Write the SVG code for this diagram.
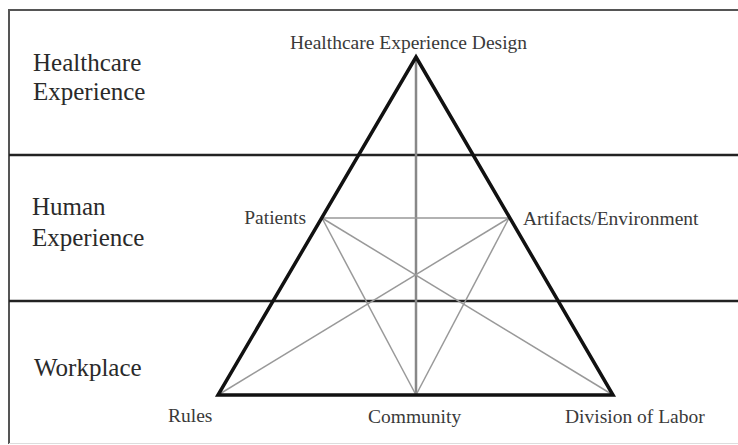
<svg xmlns="http://www.w3.org/2000/svg" width="738" height="445" viewBox="0 0 738 445">
  <style>
    .frame { stroke: #555; stroke-width: 2; fill: none; }
    .divider { stroke: #222; stroke-width: 2.5; fill: none; }
    .edge { stroke: #111; stroke-width: 3.5; fill: none; stroke-linejoin: miter; }
    .link { stroke: #999; stroke-width: 1.5; fill: none; }
    .axis { stroke: #888; stroke-width: 2.5; fill: none; }
    .band { font-family: "Liberation Serif", "Times New Roman", serif; font-size: 25px; fill: #2a2a2a; }
    .label { font-family: "Liberation Serif", "Times New Roman", serif; font-size: 19.5px; fill: #3a3a3a; }
  </style>

  <rect width="738" height="445" fill="#fff"/>

  <!-- frame and band dividers -->
  <g id="frame">
    <path class="frame" d="M738,10 H9 V444"/>
    <line x1="9" y1="443.5" x2="738" y2="443.5" stroke="#ddd" stroke-width="1"/>
    <line class="divider" x1="9" y1="155" x2="738" y2="155"/>
    <line class="divider" x1="9" y1="301" x2="738" y2="301"/>
  </g>

  <!-- band titles -->
  <g id="band-healthcare">
    <text class="band" x="33" y="71">Healthcare</text>
    <text class="band" x="33" y="100">Experience</text>
  </g>
  <g id="band-human">
    <text class="band" x="32" y="215">Human</text>
    <text class="band" x="32" y="246">Experience</text>
  </g>
  <g id="band-workplace">
    <text class="band" x="34" y="376">Workplace</text>
  </g>

  <!-- connectors -->
  <g id="connectors">
    <line class="axis" x1="416" y1="58" x2="416" y2="395"/>
    <line class="link" x1="322" y1="218" x2="509" y2="218"/>
    <line class="link" x1="322" y1="218" x2="416" y2="395"/>
    <line class="link" x1="322" y1="218" x2="613" y2="395"/>
    <line class="link" x1="509" y1="218" x2="218" y2="395"/>
    <line class="link" x1="509" y1="218" x2="416" y2="395"/>
    <path class="edge" d="M416,57 L613,395 L218,395 Z"/>
  </g>

  <!-- nodes -->
  <g id="node-design">
    <text class="label" x="408.5" y="49" text-anchor="middle">Healthcare Experience Design</text>
  </g>
  <g id="node-patients">
    <text class="label" x="306" y="224" text-anchor="end">Patients</text>
  </g>
  <g id="node-artifacts">
    <text class="label" x="523" y="225">Artifacts/Environment</text>
  </g>
  <g id="node-rules">
    <text class="label" x="168" y="422">Rules</text>
  </g>
  <g id="node-community">
    <text class="label" x="368" y="423">Community</text>
  </g>
  <g id="node-division">
    <text class="label" x="565" y="423">Division of Labor</text>
  </g>
</svg>
